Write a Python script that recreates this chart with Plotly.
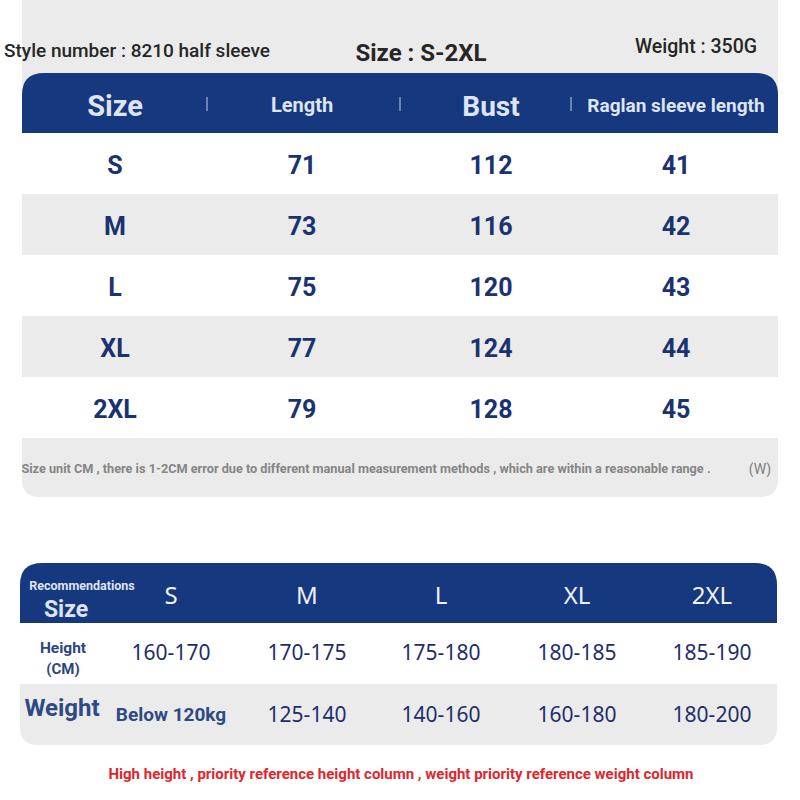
"""
Size chart for style 8210 half sleeve, drawn on one page-sized axis
"""

import plotly.graph_objects as go

# size table
sizes = ["S", "M", "L", "XL", "2XL"]
length_cm = [71, 73, 75, 77, 79]
bust_cm = [112, 116, 120, 124, 128]
sleeve_cm = [41, 42, 43, 44, 45]
header_labels = ["Size", "Length", "Bust", "Raglan sleeve length"]

# recommendation table
height_ranges = ["160-170", "170-175", "175-180", "180-185", "185-190"]
weight_ranges = ["Below 120kg", "125-140", "140-160", "160-180", "180-200"]

title_left = "Style number : 8210 half sleeve"
title_mid = "Size : S-2XL"
title_right = "Weight : 350G"
note_text = ("Size unit CM , there is 1-2CM error due to different manual "
             "measurement methods , which are within a reasonable range .")
red_note = ("High height , priority reference height column , "
            "weight priority reference weight column")

BLUE = "#15387f"
GRAY = "#ebebeb"
HEAD_TXT = "#dfe4f2"
DARK_BLUE = "#1a3370"
FONT = "Roboto"

# page layout (pixels, y goes down)
col_x1 = [115, 302, 491, 676]
row_h = 61
t1_top = 73
t1_left, t1_right = 22, 778
col_x2 = [171, 307, 441, 577, 712]
t2_top = 563
t2_left, t2_right = 20, 777
TEXT_DY = 3  # plotly centres the full line box, nudge glyphs down a bit


def rounded(x0, y0, x1, y1, rt, rb):
    """SVG path for a box with rounded top (rt) and bottom (rb) corners"""
    return (f"M {x0},{y0 + rt} Q {x0},{y0} {x0 + rt},{y0} L {x1 - rt},{y0} "
            f"Q {x1},{y0} {x1},{y0 + rt} L {x1},{y1 - rb} Q {x1},{y1} {x1 - rb},{y1} "
            f"L {x0 + rb},{y1} Q {x0},{y1} {x0},{y1 - rb} Z")


def text_trace(xs, ys, labels, size, color, family=FONT, weight="bold"):
    return go.Scatter(
        x=xs, y=[y + TEXT_DY for y in ys], text=labels, mode="text",
        textposition="middle center",
        textfont=dict(family=family, size=size, color=color, weight=weight),
        hoverinfo="skip", showlegend=False, cliponaxis=False
    )


fig = go.Figure()
shapes = []

# top gray band behind the titles
shapes.append(dict(type="rect", x0=t1_left, x1=t1_right, y0=0, y1=t1_top + 20,
                   fillcolor=GRAY, line_width=0, layer="below"))

# table 1 header
shapes.append(dict(type="path", path=rounded(t1_left, t1_top, t1_right, t1_top + 60, 22, 0),
                   fillcolor=BLUE, line_width=0, layer="below"))
for sx in [207, 400, 571]:
    shapes.append(dict(type="line", x0=sx, x1=sx, y0=97, y1=111,
                       line=dict(color="#c5cde6", width=1)))

# table 1 body rows
body_top = t1_top + 60
for i in range(len(sizes)):
    y0 = body_top + i * row_h
    fill = "white" if i % 2 == 0 else GRAY
    shapes.append(dict(type="rect", x0=t1_left, x1=t1_right, y0=y0, y1=y0 + row_h,
                       fillcolor=fill, line_width=0, layer="below"))
foot_top = body_top + len(sizes) * row_h
shapes.append(dict(type="path", path=rounded(t1_left, foot_top, t1_right, foot_top + 59, 0, 18),
                   fillcolor=GRAY, line_width=0, layer="below"))

# table 2
shapes.append(dict(type="path", path=rounded(t2_left, t2_top, t2_right, t2_top + 60, 22, 0),
                   fillcolor=BLUE, line_width=0, layer="below"))
shapes.append(dict(type="path",
                   path=rounded(t2_left, t2_top + 60 + row_h, t2_right, t2_top + 60 + 2 * row_h, 0, 18),
                   fillcolor=GRAY, line_width=0, layer="below"))

# titles
fig.add_trace(text_trace([137], [49], [title_left], 19, "#262626", weight=500))
fig.add_trace(text_trace([421], [52], [title_mid], 24, "#262626"))
fig.add_trace(text_trace([696], [45], [title_right], 19.5, "#262626", weight=500))

# table 1 header text
fig.add_trace(text_trace(col_x1, [106, 104, 106, 104], header_labels,
                         [29, 20, 28, 19], HEAD_TXT))

# table 1 values
row_y = [body_top + row_h * i + row_h / 2 + 1 for i in range(len(sizes))]
for cx, vals in zip(col_x1, [sizes, length_cm, bust_cm, sleeve_cm]):
    fig.add_trace(text_trace([cx] * len(vals), row_y, [str(v) for v in vals], 25, DARK_BLUE))

# note line
fig.add_trace(text_trace([366], [foot_top + 29], [note_text], 12.7, "#858585"))
fig.add_trace(text_trace([760], [foot_top + 29], ["(W)"], 14, "#7f7f7f", weight="normal"))

# table 2 header
fig.add_trace(text_trace([82], [584], ["Recommendations"], 12.5, HEAD_TXT))
fig.add_trace(text_trace([66], [608], ["Size"], 23, HEAD_TXT))
fig.add_trace(text_trace(col_x2, [595] * 5, sizes, 24, "#eef1f8", family="Noto Sans",
                         weight="normal"))

# table 2 rows
h_y = t2_top + 60 + row_h / 2 - 2
w_y = h_y + row_h + 1
fig.add_trace(text_trace([63], [646], ["Height"], 15.5, "#2d4580"))
fig.add_trace(text_trace([63], [667], ["(CM)"], 15, "#2d4580"))
fig.add_trace(text_trace(col_x2, [h_y] * 5, height_ranges, 21, "#1f2d6b",
                         family="Noto Sans", weight="normal"))
fig.add_trace(text_trace([62], [707], ["Weight"], 24, "#2e4a83"))
fig.add_trace(text_trace([col_x2[0]], [w_y], weight_ranges[:1], 19, "#2e4a83"))
fig.add_trace(text_trace(col_x2[1:], [w_y] * 4, weight_ranges[1:], 21, "#1f2d6b",
                         family="Noto Sans", weight="normal"))

# red advice
fig.add_trace(text_trace([401], [772], [red_note], 15, "#e0262c"))

fig.update_layout(
    width=800, height=800,
    margin=dict(l=0, r=0, t=0, b=0),
    paper_bgcolor="white", plot_bgcolor="white",
    shapes=shapes,
    showlegend=False,
)
fig.update_xaxes(range=[0, 800], visible=False, fixedrange=True)
fig.update_yaxes(range=[800, 0], visible=False, fixedrange=True)

# drop the default page margin so the figure sits at the window corner
fig.write_html("out.html", config={"displayModeBar": False},
               post_script="document.body.style.margin='0';")
